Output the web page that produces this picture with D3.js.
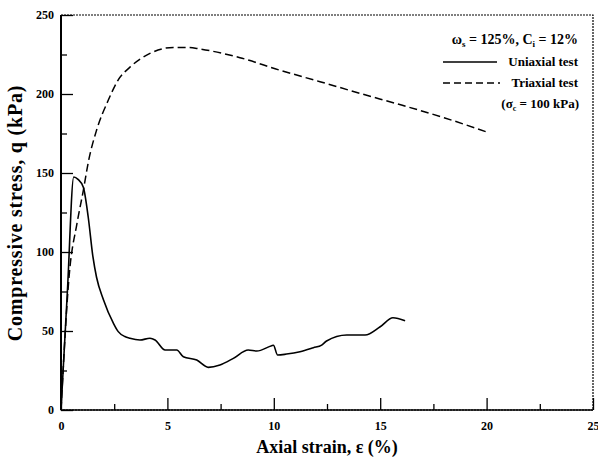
<!DOCTYPE html>
<html><head><meta charset="utf-8">
<script src="https://cdn.jsdelivr.net/npm/d3@7"></script>
<style>body{margin:0;background:#fff}svg{display:block}text{font-family:"Liberation Serif","Times New Roman",serif;font-weight:bold;fill:#000}</style>
</head><body><svg id="c" width="598" height="461"></svg>
<script>
const uniaxialStrain = [0,0.3,0.6,0.8,1.05,1.28,1.5,1.67,1.99,2.46,2.69,3.0,3.24,3.71,4.18,4.42,4.89,5.44,5.75,6.38,6.92,7.47,8.1,8.8,9.2,9.9,9.98,10.18,10.6,11.23,11.86,12.25,12.48,13.43,14.29,15.0,15.6,16.17];
const uniaxialStress = [0,75,147.5,146,141,122,97,84,70,55,49.6,46.5,45.4,44.3,45.4,44.3,38,38,33.7,31.6,27,28.5,32.7,38,37.3,40.7,41,34.8,35.4,36.9,39.4,41.1,43.7,47.5,47.5,52.7,58.4,56.5];
const triaxialStrain = [0,0.39,0.75,1.05,1.3,1.67,2.22,2.69,3.24,4.18,5.28,6.0,6.53,8.41,10.3,12.17,14.05,16,18,20];
const triaxialStress = [0,86,118,139,158,177,196,209,217,225.7,229.5,229.5,228.5,223,215,207.8,200.4,193,185,176];
const xTicks = [0,5,10,15,20,25];
const yTicks = [0,50,100,150,200,250];
const xMinor = [2.5,7.5,12.5,17.5,22.5];
const yMinor = [25,75,125,175,225];

const svg = d3.select("#c");
const x = d3.scaleLinear().domain([0,25]).range([61,593]);
const y = d3.scaleLinear().domain([0,250]).range([410,15]);

// frame
svg.append("rect").attr("x",61).attr("y",15).attr("width",532).attr("height",395)
  .attr("fill","none").attr("stroke","#000").attr("stroke-width",1.2).attr("stroke-dasharray","2,1");
svg.append("line").attr("x1",61).attr("x2",61).attr("y1",15).attr("y2",410).attr("stroke","#000").attr("stroke-width",2);
svg.append("line").attr("x1",61).attr("x2",593).attr("y1",410).attr("y2",410).attr("stroke","#000").attr("stroke-width",1.5);

// axes
const xAx = svg.append("g").attr("transform","translate(0,410)")
  .call(d3.axisBottom(x).tickValues(xTicks).tickSize(-12).tickPadding(11).tickFormat(d3.format("d")));
const xAxm = svg.append("g").attr("transform","translate(0,410)")
  .call(d3.axisBottom(x).tickValues(xMinor).tickSize(-6).tickFormat(""));
const yAx = svg.append("g").attr("transform","translate(61,0)")
  .call(d3.axisLeft(y).tickValues(yTicks).tickSize(-12).tickPadding(7).tickFormat(d3.format("d")));
const yAxm = svg.append("g").attr("transform","translate(61,0)")
  .call(d3.axisLeft(y).tickValues(yMinor).tickSize(-6).tickFormat(""));
[xAx,xAxm,yAx,yAxm].forEach(g=>{g.select(".domain").remove();g.selectAll("line").attr("stroke","#000").attr("stroke-width",1.3);});
xAx.selectAll("text").attr("font-size",12).attr("font-family","Liberation Serif").attr("font-weight","bold").attr("fill","#000");
yAx.selectAll("text").attr("font-size",12).attr("font-family","Liberation Serif").attr("font-weight","bold").attr("fill","#000");

// lines
const uni = uniaxialStrain.map((s,i)=>[s,uniaxialStress[i]]);
const tri = triaxialStrain.map((s,i)=>[s,triaxialStress[i]]);
const line = d3.line().x(d=>x(d[0])).y(d=>y(d[1])).curve(d3.curveMonotoneX);
svg.append("path").attr("d",line(uni)).attr("fill","none").attr("stroke","#000").attr("stroke-width",1.6);
svg.append("path").attr("d",line(tri)).attr("fill","none").attr("stroke","#000").attr("stroke-width",1.5).attr("stroke-dasharray","8,4");

// legend
const lg = svg.append("g");
const t1 = lg.append("text").attr("x",578).attr("y",44).attr("text-anchor","end").attr("font-size",14);
t1.append("tspan").text("ω");
t1.append("tspan").attr("font-size",9).attr("dy",3).text("s");
t1.append("tspan").attr("dy",-3).text(" = 125%, C");
t1.append("tspan").attr("font-size",9).attr("dy",3).text("i");
t1.append("tspan").attr("dy",-3).text(" = 12%");
lg.append("line").attr("x1",443).attr("x2",497).attr("y1",62).attr("y2",62).attr("stroke","#000").attr("stroke-width",1.3);
lg.append("text").attr("x",578).attr("y",66).attr("text-anchor","end").attr("font-size",13).text("Uniaxial test");
lg.append("line").attr("x1",443).attr("x2",500).attr("y1",83).attr("y2",83).attr("stroke","#000").attr("stroke-width",1.3).attr("stroke-dasharray","7,4");
lg.append("text").attr("x",578).attr("y",87).attr("text-anchor","end").attr("font-size",13).text("Triaxial test");
const t4 = lg.append("text").attr("x",579).attr("y",108).attr("text-anchor","end").attr("font-size",13);
t4.append("tspan").text("(σ");
t4.append("tspan").attr("font-size",8).attr("dy",3).text("c");
t4.append("tspan").attr("dy",-3).text(" = 100 kPa)");

// axis titles
svg.append("text").attr("x",327).attr("y",453).attr("text-anchor","middle").attr("font-size",18).text("Axial strain, ε (%)");
svg.append("text").attr("transform","translate(22,213) rotate(-90)").attr("text-anchor","middle").attr("font-size",20).attr("letter-spacing",0.8).text("Compressive stress, q (kPa)");
</script></body></html>
